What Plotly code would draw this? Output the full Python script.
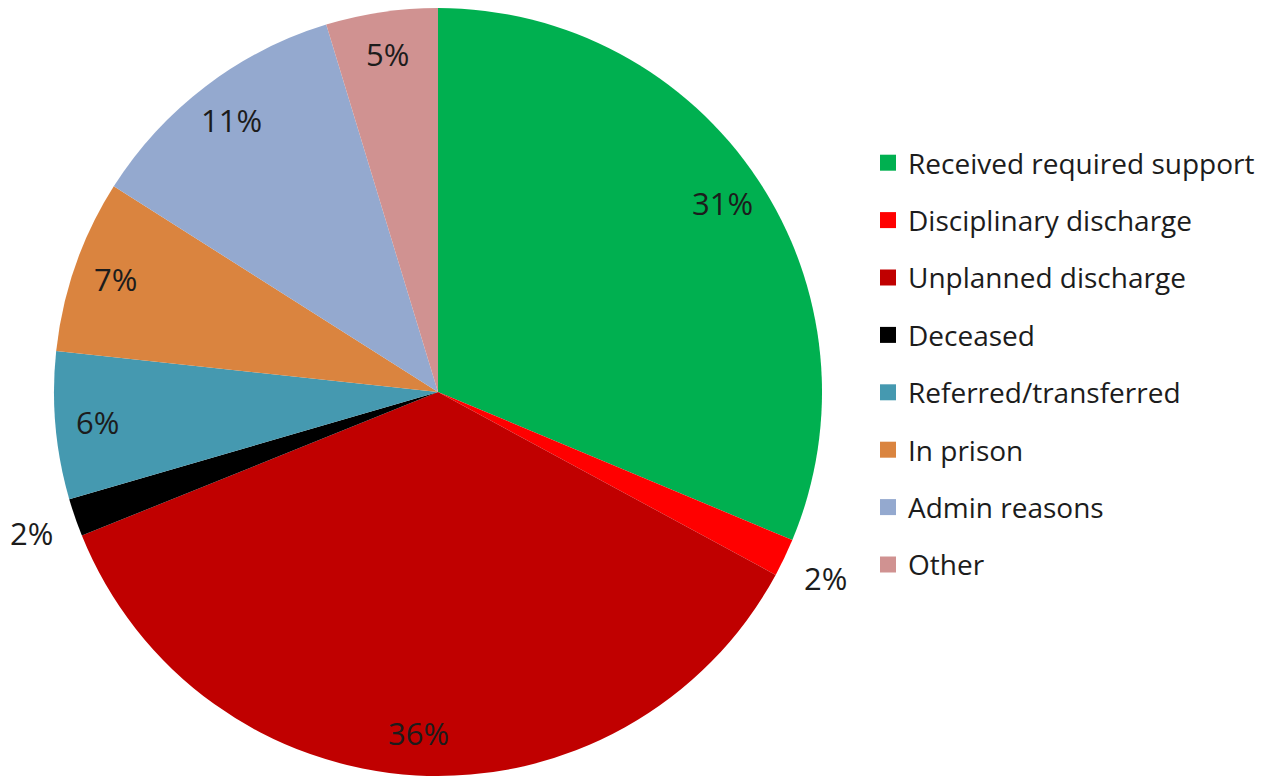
import math

import plotly.graph_objects as go

# --- data (percent of closed cases) ---
categories = [
    "Received required support",
    "Disciplinary discharge",
    "Unplanned discharge",
    "Deceased",
    "Referred/transferred",
    "In prison",
    "Admin reasons",
    "Other",
]
shares = [31.3, 1.6, 36.0, 1.6, 6.2, 7.3, 11.3, 4.7]
colors = ["#00B050", "#FF0000", "#C00000", "#000000", "#4599B0", "#DA843F", "#94A9CF", "#D09291"]

# page body has an 8px margin, so the figure is a bit smaller than the window
W, H = 1263, 770
CX, CY, R = 430, 384, 384  # pie centre / radius in figure px (from top-left)
TEXT = "#1c1c1c"
FONT = "Open Sans, Noto Sans, sans-serif"

fig = go.Figure()

fig.add_trace(
    go.Pie(
        labels=categories,
        values=shares,
        sort=False,
        direction="clockwise",
        rotation=0,
        marker=dict(colors=colors, line=dict(width=0)),
        textinfo="none",
        showlegend=False,
        hovertemplate="%{label}: %{percent:.0%}<extra></extra>",
        domain=dict(
            x=[(CX - R) / W, (CX + R) / W],
            y=[max(0, (H - CY - R) / H), min(1, (H - CY + R) / H)],
        ),
    )
)

# --- percent labels, placed at each slice's mid-angle ---
total = sum(shares)
cum = 0
for v in shares:
    theta = 2 * math.pi * (cum + v / 2) / total
    cum += v
    frac = 1.12 if v / total < 0.025 else 0.89
    px = CX + R * frac * math.sin(theta)
    py = CY - R * frac * math.cos(theta)
    fig.add_annotation(
        x=px / W,
        y=1 - py / H,
        xref="paper",
        yref="paper",
        xanchor="center",
        yanchor="middle",
        text=f"{round(v / total * 100)}%",
        showarrow=False,
        font=dict(size=31, color=TEXT, family=FONT),
    )

# --- legend: one dummy trace per category so items can be spaced out ---
for lab, c in zip(categories, colors):
    fig.add_trace(
        go.Scatter(
            x=[None],
            y=[None],
            mode="markers",
            name=lab,
            legendgroup=lab,
            marker=dict(symbol="square", size=18, color=c),
            hoverinfo="skip",
        )
    )

fig.update_layout(
    width=W,
    height=H,
    margin=dict(l=0, r=0, t=0, b=0),
    paper_bgcolor="white",
    plot_bgcolor="white",
    font=dict(family=FONT, color=TEXT),
    legend=dict(
        x=860 / W,
        xanchor="left",
        y=1 - 356 / H,
        yanchor="middle",
        font=dict(size=28, color=TEXT, family=FONT),
        tracegroupgap=18,
        bgcolor="rgba(0,0,0,0)",
    ),
    xaxis=dict(visible=False),
    yaxis=dict(visible=False),
)

fig.write_html("out.html")
